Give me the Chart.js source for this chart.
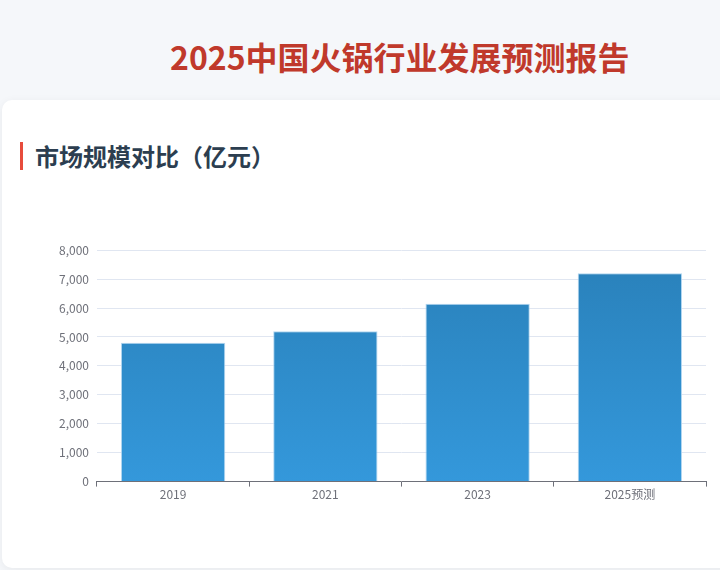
<!DOCTYPE html>
<html>
<head>
<meta charset="utf-8">
<script src="https://cdn.jsdelivr.net/npm/chart.js@4"></script>
<style>
  html, body { margin: 0; padding: 0; }
  body {
    width: 720px; height: 570px; overflow: hidden;
    background: #f5f7fa;
    font-family: "Noto Sans CJK SC", "Noto Sans", sans-serif;
    position: relative;
  }
  h1 {
    position: absolute; left: 170px; top: 34px; margin: 0;
    font-size: 32px; font-weight: 700; color: #c0392b;
    line-height: 44px; white-space: nowrap;
  }
  .card {
    position: absolute; left: 2px; top: 100px; width: 740px; height: 468px;
    background: #fff; border-radius: 10px;
    box-shadow: 0 2px 10px rgba(0,0,0,0.06);
  }
  .sec {
    position: absolute; left: 20px; top: 142px; height: 28px;
    border-left: 3px solid #e74c3c; padding-left: 12px;
    font-size: 24px; font-weight: 700; color: #2c3e50; line-height: 28px;
    white-space: nowrap;
  }
  .box { position: absolute; left: 40px; top: 235px; width: 672px; height: 268px; }
</style>
</head>
<body>
<h1>2025中国火锅行业发展预测报告</h1>
<div class="card"></div>
<div class="sec">市场规模对比（亿元）</div>
<div class="box"><canvas id="marketChart"></canvas></div>
<script>
const years = ["2019", "2021", "2023", "2025预测"];
const marketSize = [4800, 5200, 6150, 7200];
const yTicks = [0, 1000, 2000, 3000, 4000, 5000, 6000, 7000, 8000];

document.addEventListener("DOMContentLoaded", () => {
  const ctx = document.getElementById('marketChart').getContext('2d');

  // 柱子渐变（上深下浅）
  const barFill = (context) => {
    const area = context.chart.chartArea;
    if (!area) return '#3498db';
    const g = context.chart.ctx.createLinearGradient(0, area.top, 0, area.bottom);
    g.addColorStop(0, '#2980b9');
    g.addColorStop(1, '#3498db');
    return g;
  };

  new Chart(ctx, {
    type: 'bar',
    data: {
      labels: years,
      datasets: [{
        label: '市场规模',
        data: marketSize,
        backgroundColor: barFill,
        borderColor: 'rgba(170,210,238,0.9)',
        borderWidth: 1,
        barPercentage: 0.685,
        categoryPercentage: 1
      }]
    },
    options: {
      responsive: true,
      maintainAspectRatio: false,
      animation: false,
      layout: { padding: { top: 1, right: 6, left: 11, bottom: 0 } },
      scales: {
        y: {
          min: 0,
          max: 8000,
          afterBuildTicks: (axis) => { axis.ticks = yTicks.map(v => ({ value: v })); },
          border: { display: false },
          grid: { color: '#e0e6f1', drawTicks: false },
          ticks: {
            color: '#6e7079',
            padding: 8,
            font: { size: 12, family: '"Noto Sans CJK SC", sans-serif' },
            callback: (v) => v.toLocaleString('en-US')
          }
        },
        x: {
          border: { color: '#6e7079' },
          grid: { drawOnChartArea: false, color: '#6e7079', tickLength: 5, offset: true },
          ticks: {
            color: '#6e7079',
            padding: 1,
            font: { size: 12, family: '"Noto Sans CJK SC", sans-serif' }
          }
        }
      },
      plugins: {
        legend: { display: false },
        tooltip: { enabled: false }
      }
    }
  });
});
</script>
</body>
</html>
